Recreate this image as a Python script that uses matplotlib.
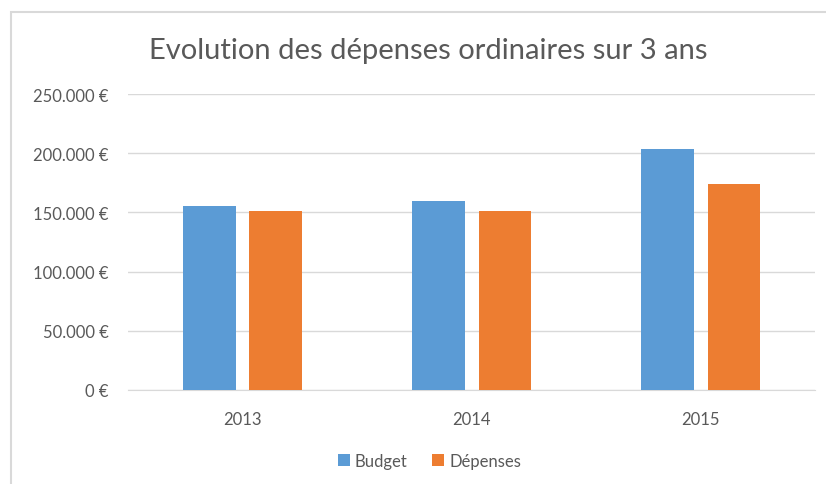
import matplotlib.pyplot as plt
from matplotlib.patches import Rectangle
from matplotlib.ticker import FuncFormatter
import numpy as np

years = ['2013', '2014', '2015']
budget = [155500, 159800, 203500]
depenses = [151400, 151400, 174000]
series_names = ['Budget', 'Dépenses']
colors = ['#5b9bd5', '#ed7d31']

plt.rcParams['font.family'] = ['Lato', 'DejaVu Sans']

fig = plt.figure(figsize=(8.26, 4.85), dpi=100)
ax = fig.add_axes([0.155, 0.194, 0.832, 0.61])

# light chart-area frame (open on the right and bottom like the crop)
fig.patches.append(Rectangle((11 / 826, -0.1), 1.2, 1 - 13 / 485 + 0.1,
                             transform=fig.transFigure, fill=False,
                             edgecolor='#d9d9d9', linewidth=1.5))

x = np.arange(len(years))
w = 0.23
ax.bar(x - 0.145, budget, w, color=colors[0], label=series_names[0], zorder=3)
ax.bar(x + 0.145, depenses, w, color=colors[1], label=series_names[1], zorder=3)

ax.set_xlim(-0.5, 2.5)
ax.set_ylim(0, 250000)
ax.set_yticks(np.arange(0, 250001, 50000))
ax.yaxis.set_major_formatter(FuncFormatter(lambda v, p: f'{v:,.0f}'.replace(',', '.') + ' €'))
ax.set_xticks(x)
ax.set_xticklabels(years)

ax.grid(axis='y', color='#d9d9d9', linewidth=1, zorder=0)
for s in ['top', 'right', 'left']:
    ax.spines[s].set_visible(False)
ax.spines['bottom'].set_color('#d9d9d9')
ax.tick_params(length=0, colors='#595959', labelsize=12)
ax.tick_params(axis='y', pad=14)
ax.tick_params(axis='x', pad=15)

fig.text(0.518, 0.895, 'Evolution des dépenses ordinaires sur 3 ans',
         ha='center', va='center', fontsize=21, color='#595959')

fig.legend(loc='center', bbox_to_anchor=(0.52, 0.048), ncol=2, frameon=False,
           fontsize=12, labelcolor='#595959', handlelength=0.7, handleheight=0.7,
           handletextpad=0.3, columnspacing=1.5)

fig.savefig('out.png', dpi=100)
